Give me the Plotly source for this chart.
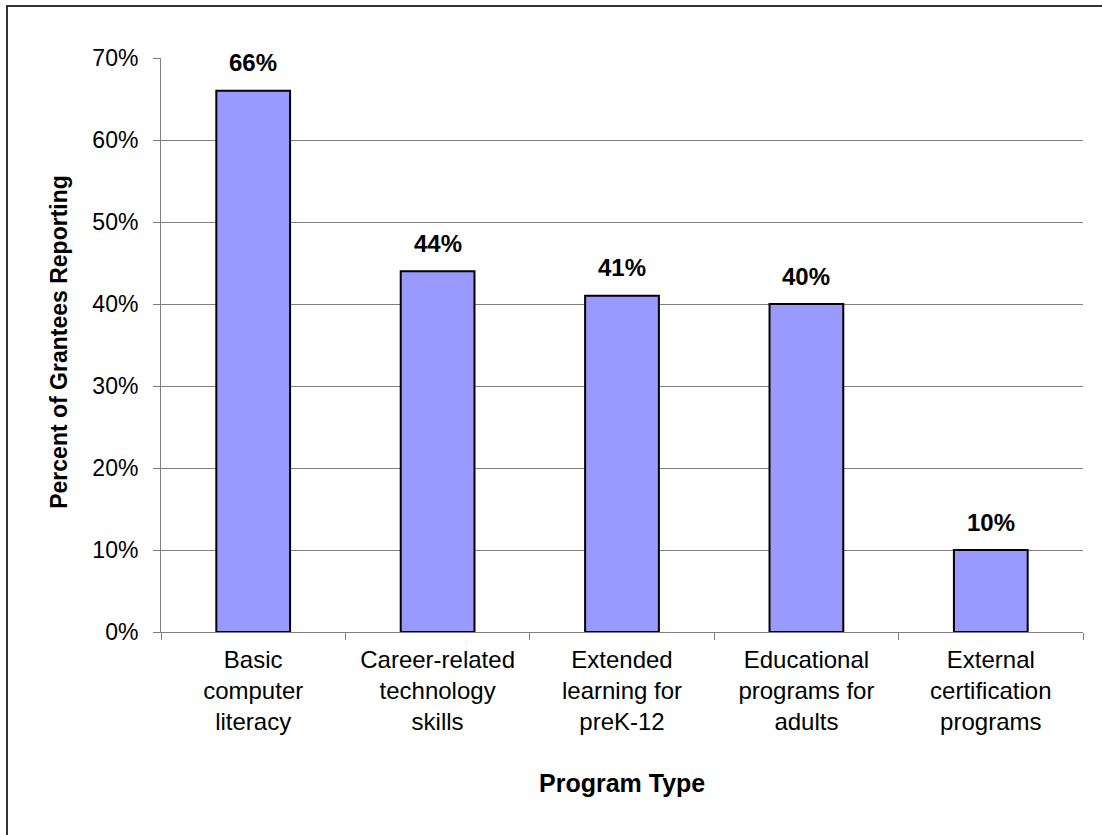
import plotly.graph_objects as go

# Program types (x categories) and share of grantees reporting each (%)
program_types = [
    "Basic<br>computer<br>literacy",
    "Career-related<br>technology<br>skills",
    "Extended<br>learning for<br>preK-12",
    "Educational<br>programs for<br>adults",
    "External<br>certification<br>programs",
]
percent_reporting = [66, 44, 41, 40, 10]
value_labels = [f"{v}%" for v in percent_reporting]

FONT = "Liberation Sans, Arial, sans-serif"
GRID = "#808080"

fig = go.Figure()
fig.add_trace(go.Bar(
    x=program_types,
    y=percent_reporting,
    marker=dict(color="#9999FF", line=dict(color="#000000", width=2)),
    width=0.4,
    hoverinfo="skip",
))

# bold value labels above each bar
for cat, val, lab in zip(program_types, percent_reporting, value_labels):
    fig.add_annotation(
        x=cat, y=val, text=f"<b>{lab}</b>", showarrow=False,
        xanchor="center", yanchor="middle", yshift=28,
        font=dict(family=FONT, size=24, color="#000000"),
    )

# axis titles
fig.add_annotation(
    xref="paper", yref="paper", x=-0.111, y=0.505,
    text="<b>Percent of Grantees Reporting</b>", textangle=-90,
    showarrow=False, xanchor="center", yanchor="middle",
    font=dict(family=FONT, size=23, color="#000000"),
)
fig.add_annotation(
    xref="paper", yref="paper", x=0.5, y=-0.263,
    text="<b>Program Type</b>", showarrow=False,
    xanchor="center", yanchor="middle",
    font=dict(family=FONT, size=25, color="#000000"),
)

# chart frame (top and left edges)
fig.add_shape(type="line", xref="paper", yref="paper",
              x0=(6 - 161) / 922, x1=(1102 - 161) / 922,
              y0=(632 - 6) / 574, y1=(632 - 6) / 574,
              line=dict(color="#333333", width=2))
fig.add_shape(type="line", xref="paper", yref="paper",
              x0=(7 - 161) / 922, x1=(7 - 161) / 922,
              y0=(632 - 5) / 574, y1=(632 - 840) / 574,
              line=dict(color="#333333", width=2))

fig.update_layout(
    width=1102, height=835,
    margin=dict(l=161, r=19, t=58, b=203),
    paper_bgcolor="#FFFFFF", plot_bgcolor="#FFFFFF",
    showlegend=False,
    font=dict(family=FONT, size=24, color="#000000"),
)
fig.update_xaxes(
    type="category",
    showline=True, linecolor=GRID, linewidth=1,
    ticks="outside", tickson="boundaries", ticklen=7, tickcolor=GRID,
    showgrid=False,
    tickfont=dict(family=FONT, size=24, color="#000000"),
    ticklabelstandoff=6,
)
fig.update_yaxes(
    range=[0, 70], dtick=10, ticksuffix="%",
    showline=True, linecolor=GRID, linewidth=1,
    showgrid=True, gridcolor=GRID, gridwidth=1,
    ticks="outside", ticklen=7, tickcolor=GRID,
    tickfont=dict(family=FONT, size=23, color="#000000"),
    ticklabelstandoff=10,
    zeroline=False,
)

fig.write_html("out.html")
